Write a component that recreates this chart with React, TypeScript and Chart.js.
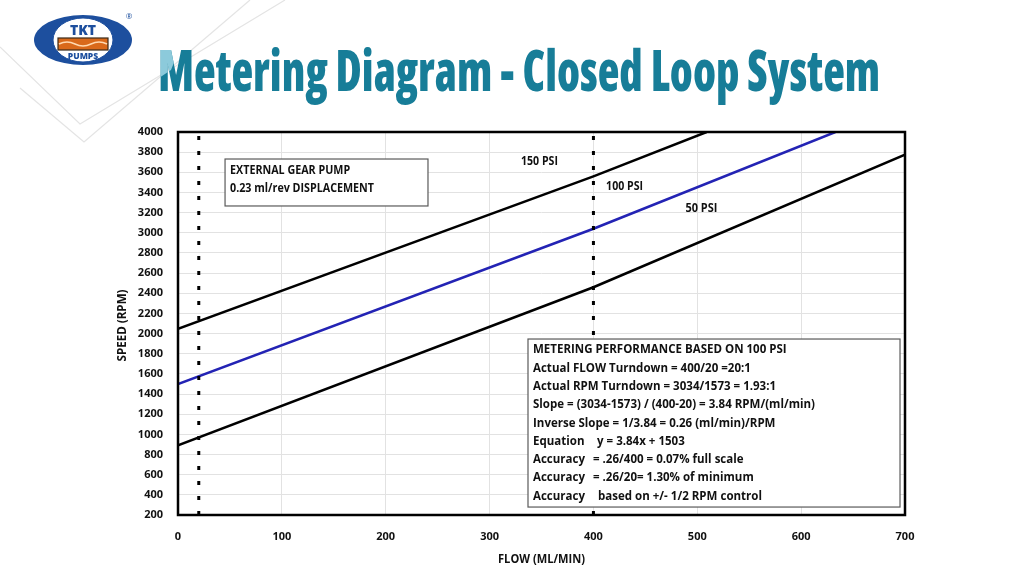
import React, { useEffect, useRef } from "react";
import { Chart, registerables } from "chart.js";

Chart.register(...registerables);

// ---------- data ----------
const flowMin = 0;
const flowMax = 700;
const flowStep = 100;
const speedMin = 200;
const speedMax = 4000;
const speedStep = 200;

const psi150Flow = [0, 400, 509];
const psi150Speed = [2048, 3560, 4000];
const psi100Flow = [0, 400, 633];
const psi100Speed = [1500, 3040, 4000];
const psi50Flow = [0, 400, 700];
const psi50Speed = [890, 2460, 3775];

const markerFlows = [20, 400];

const seriesNames = ["150 PSI", "100 PSI", "50 PSI"];
const seriesLabelFlow = [348, 430, 504];
const seriesLabelSpeed = [3702, 3454, 3236];

const titleText = "Metering Diagram - Closed Loop System";
const xTitle = "FLOW (ML/MIN)";
const yTitle = "SPEED (RPM)";

const pumpBoxLines = ["EXTERNAL GEAR PUMP", "0.23 ml/rev DISPLACEMENT"];
const perfBoxLabels = [
  "METERING PERFORMANCE BASED ON 100 PSI",
  "Actual FLOW Turndown = 400/20 =20:1",
  "Actual RPM Turndown = 3034/1573 = 1.93:1",
  "Slope = (3034-1573) / (400-20) = 3.84 RPM/(ml/min)",
  "Inverse Slope = 1/3.84 = 0.26 (ml/min)/RPM",
  "Equation",
  "Accuracy",
  "Accuracy",
  "Accuracy",
];
const perfBoxValues = [
  "",
  "",
  "",
  "",
  "",
  "y = 3.84x + 1503",
  "= .26/400 = 0.07% full scale",
  "= .26/20= 1.30% of minimum",
  "based on +/- 1/2 RPM control",
];

// ---------- layout / style (not data) ----------
const pumpBox = { x0: 45.3, x1: 240.7, y0: 3732, y1: 3266 };
const perfBox = { x0: 337, x1: 695.2, y0: 1946, y1: 279 };
const perfValueOffsets = [0, 0, 0, 0, 0, 64, 60, 60, 65];
const seriesLabelWidths = [37, 37, 32];

const FONT = '"Open Sans", "Noto Sans", sans-serif';
const TEAL = "#177d98";

function toPoints(xs: number[], ys: number[]) {
  return xs.map((x, i) => ({ x, y: ys[i] }));
}

function drawScaled(ctx: CanvasRenderingContext2D, text: string, x: number, y: number, sx: number) {
  ctx.save();
  ctx.translate(x, y);
  ctx.scale(sx, 1);
  ctx.fillText(text, 0, 0);
  ctx.restore();
}

const decorPlugin = {
  id: "decor",
  beforeDraw(chart: any) {
    const ctx = chart.ctx as CanvasRenderingContext2D;
    ctx.save();
    ctx.fillStyle = "#fff";
    ctx.fillRect(0, 0, chart.width, chart.height);
    ctx.strokeStyle = "#e4e4e4";
    ctx.lineWidth = 1.2;
    const polys = [
      [[0, 47], [80, 124], [285, 0]],
      [[20, 88], [84, 142], [250, 0]],
    ];
    polys.forEach((p) => {
      ctx.beginPath();
      ctx.moveTo(p[0][0], p[0][1]);
      for (let i = 1; i < p.length; i++) ctx.lineTo(p[i][0], p[i][1]);
      ctx.stroke();
    });
    ctx.restore();
  },
  afterDatasetsDraw(chart: any) {
    const ctx = chart.ctx as CanvasRenderingContext2D;
    const xs = chart.scales.x;
    const ys = chart.scales.y;
    ctx.save();
    // series labels
    ctx.fillStyle = "#111";
    ctx.textAlign = "left";
    ctx.textBaseline = "middle";
    ctx.font = `bold 12px ${FONT}`;
    seriesNames.forEach((name, i) => {
      const px = xs.getPixelForValue(seriesLabelFlow[i]);
      const py = ys.getPixelForValue(seriesLabelSpeed[i]);
      const w = ctx.measureText(name).width;
      const tw = seriesLabelWidths[i];
      drawScaled(ctx, name, px - tw / 2, py, tw / w);
    });

    // boxes
    const drawBox = (b: any) => {
      const l = xs.getPixelForValue(b.x0);
      const r = xs.getPixelForValue(b.x1);
      const t = ys.getPixelForValue(b.y0);
      const bt = ys.getPixelForValue(b.y1);
      ctx.fillStyle = "#fff";
      ctx.fillRect(l, t, r - l, bt - t);
      ctx.strokeStyle = "#5a5a5a";
      ctx.lineWidth = 1.2;
      ctx.strokeRect(l, t, r - l, bt - t);
      return { l, t, r, bt };
    };
    ctx.textAlign = "left";
    ctx.textBaseline = "middle";

    const b1 = drawBox(pumpBox);
    ctx.fillStyle = "#111";
    ctx.font = `bold 11.5px ${FONT}`;
    const w1 = ctx.measureText(pumpBoxLines[1]).width;
    const sx1 = 144 / w1;
    pumpBoxLines.forEach((ln, i) => drawScaled(ctx, ln, b1.l + 5, b1.t + 11.7 + i * 17.6, sx1));

    const b2 = drawBox(perfBox);
    ctx.fillStyle = "#111";
    ctx.font = `bold 11.5px ${FONT}`;
    const w2 = ctx.measureText(perfBoxLabels[3]).width;
    const sx2 = 282 / w2;
    perfBoxLabels.forEach((ln, i) => {
      const y = b2.t + 11 + i * 18.3;
      drawScaled(ctx, ln, b2.l + 5, y, sx2);
      if (perfBoxValues[i]) drawScaled(ctx, perfBoxValues[i], b2.l + 5 + perfValueOffsets[i], y, sx2);
    });
    ctx.restore();
  },
  afterDraw(chart: any) {
    const ctx = chart.ctx as CanvasRenderingContext2D;
    const a = chart.chartArea;
    ctx.save();
    // frame
    ctx.strokeStyle = "#000";
    ctx.lineWidth = 2.5;
    ctx.strokeRect(a.left, a.top, a.right - a.left, a.bottom - a.top);

    // axis titles
    ctx.fillStyle = "#111";
    ctx.font = `bold 11.5px ${FONT}`;
    ctx.textBaseline = "middle";
    ctx.textAlign = "left";
    const wx = ctx.measureText(xTitle).width;
    drawScaled(ctx, xTitle, (a.left + a.right) / 2 - 87 / 2, 560, 87 / wx);
    const wy = ctx.measureText(yTitle).width;
    ctx.save();
    ctx.translate(123, (a.top + a.bottom) / 2 + 2);
    ctx.rotate(-Math.PI / 2);
    drawScaled(ctx, yTitle, -36, 0, 72 / wy);
    ctx.restore();

    // main title
    ctx.font = `800 56px ${FONT}`;
    (ctx as any).fontStretch = "condensed";
    ctx.textBaseline = "alphabetic";
    ctx.textAlign = "left";
    const wt = ctx.measureText(titleText).width;
    const st = 722 / wt;
    ctx.fillStyle = TEAL;
    drawScaled(ctx, titleText, 158, 91, st);
    // lighter facet on the M
    ctx.save();
    ctx.beginPath();
    ctx.moveTo(150, 40);
    ctx.lineTo(183, 40);
    ctx.lineTo(171, 70);
    ctx.lineTo(150, 84);
    ctx.closePath();
    ctx.clip();
    ctx.fillStyle = "#8ccadb";
    drawScaled(ctx, "M", 158, 91, st);
    ctx.restore();
    ctx.restore();
  },
};

function Logo() {
  return (
    <svg
      width={112}
      height={60}
      viewBox="0 0 112 60"
      style={{ position: "absolute", left: 31, top: 10 }}
    >
      <ellipse cx={52} cy={30} rx={49} ry={25} fill="#1d4f9e" />
      <ellipse cx={52} cy={30} rx={30} ry={22} fill="#fff" stroke="#1d4f9e" strokeWidth={1} />
      <text x={52} y={25} textAnchor="middle" fontFamily={FONT} fontWeight={800} fontSize={14} fill="#1d4f9e">
        TKT
      </text>
      <rect x={27} y={28} width={50} height={12} fill="#d9691a" stroke="#3a2a1a" strokeWidth={1.2} />
      <path d="M28 34 Q 36 30 44 34 T 60 34 T 76 34" stroke="#ffd9b0" strokeWidth={1.5} fill="none" />
      <text x={52} y={49} textAnchor="middle" fontFamily={FONT} fontWeight={800} fontSize={8.5} fill="#1d4f9e">
        PUMPS
      </text>
      <text x={98} y={9} textAnchor="middle" fontFamily={FONT} fontSize={8} fill="#1d4f9e">
        ®
      </text>
    </svg>
  );
}

export default function App() {
  const ref = useRef<HTMLCanvasElement | null>(null);

  useEffect(() => {
    if (!ref.current) return;
    const lineDs = (label: string, xs: number[], ys: number[], color: string) => ({
      label,
      data: toPoints(xs, ys),
      borderColor: color,
      backgroundColor: color,
      borderWidth: 2.5,
      pointRadius: 0,
      tension: 0,
      fill: false,
    });
    const markerDs = markerFlows.map((f) => ({
      label: "marker " + f,
      data: [
        { x: f, y: speedMin },
        { x: f, y: speedMax },
      ],
      borderColor: "#000",
      borderWidth: 3,
      borderDash: [4, 11],
      borderCapStyle: "butt",
      pointRadius: 0,
      fill: false,
    }));

    const chart = new Chart(ref.current, {
      type: "line",
      data: {
        datasets: [
          ...markerDs,
          lineDs(seriesNames[0], psi150Flow, psi150Speed, "#000"),
          lineDs(seriesNames[1], psi100Flow, psi100Speed, "#2323b4"),
          lineDs(seriesNames[2], psi50Flow, psi50Speed, "#000"),
        ] as any,
      },
      options: {
        responsive: false,
        animation: false,
        devicePixelRatio: 1,
        layout: { padding: { left: 110, right: 119, top: 132, bottom: 20 } },
        plugins: {
          legend: { display: false },
          tooltip: { enabled: false },
          title: { display: false },
        },
        scales: {
          x: {
            type: "linear",
            min: flowMin,
            max: flowMax,
            ticks: {
              stepSize: flowStep,
              color: "#111",
              padding: 15,
              font: { family: FONT, size: 11, weight: "bold" },
              callback: (v: any) => String(v),
            },
            grid: { color: "#e2e2e2", drawTicks: false },
            border: { display: false },
            afterFit: (s: any) => {
              s.height = 49;
            },
          },
          y: {
            type: "linear",
            min: speedMin,
            max: speedMax,
            ticks: {
              stepSize: speedStep,
              color: "#111",
              padding: 15,
              font: { family: FONT, size: 11, weight: "bold" },
              callback: (v: any) => String(v),
            },
            grid: { color: "#e2e2e2", drawTicks: false },
            border: { display: false },
            afterFit: (s: any) => {
              s.width = 68;
            },
          },
        },
      } as any,
      plugins: [decorPlugin],
    });
    return () => chart.destroy();
  }, []);

  return (
    <div style={{ position: "absolute", left: 0, top: 0, width: 1024, height: 584, background: "#fff" }}>
      <canvas ref={ref} width={1024} height={584} style={{ display: "block" }} />
      <Logo />
    </div>
  );
}
